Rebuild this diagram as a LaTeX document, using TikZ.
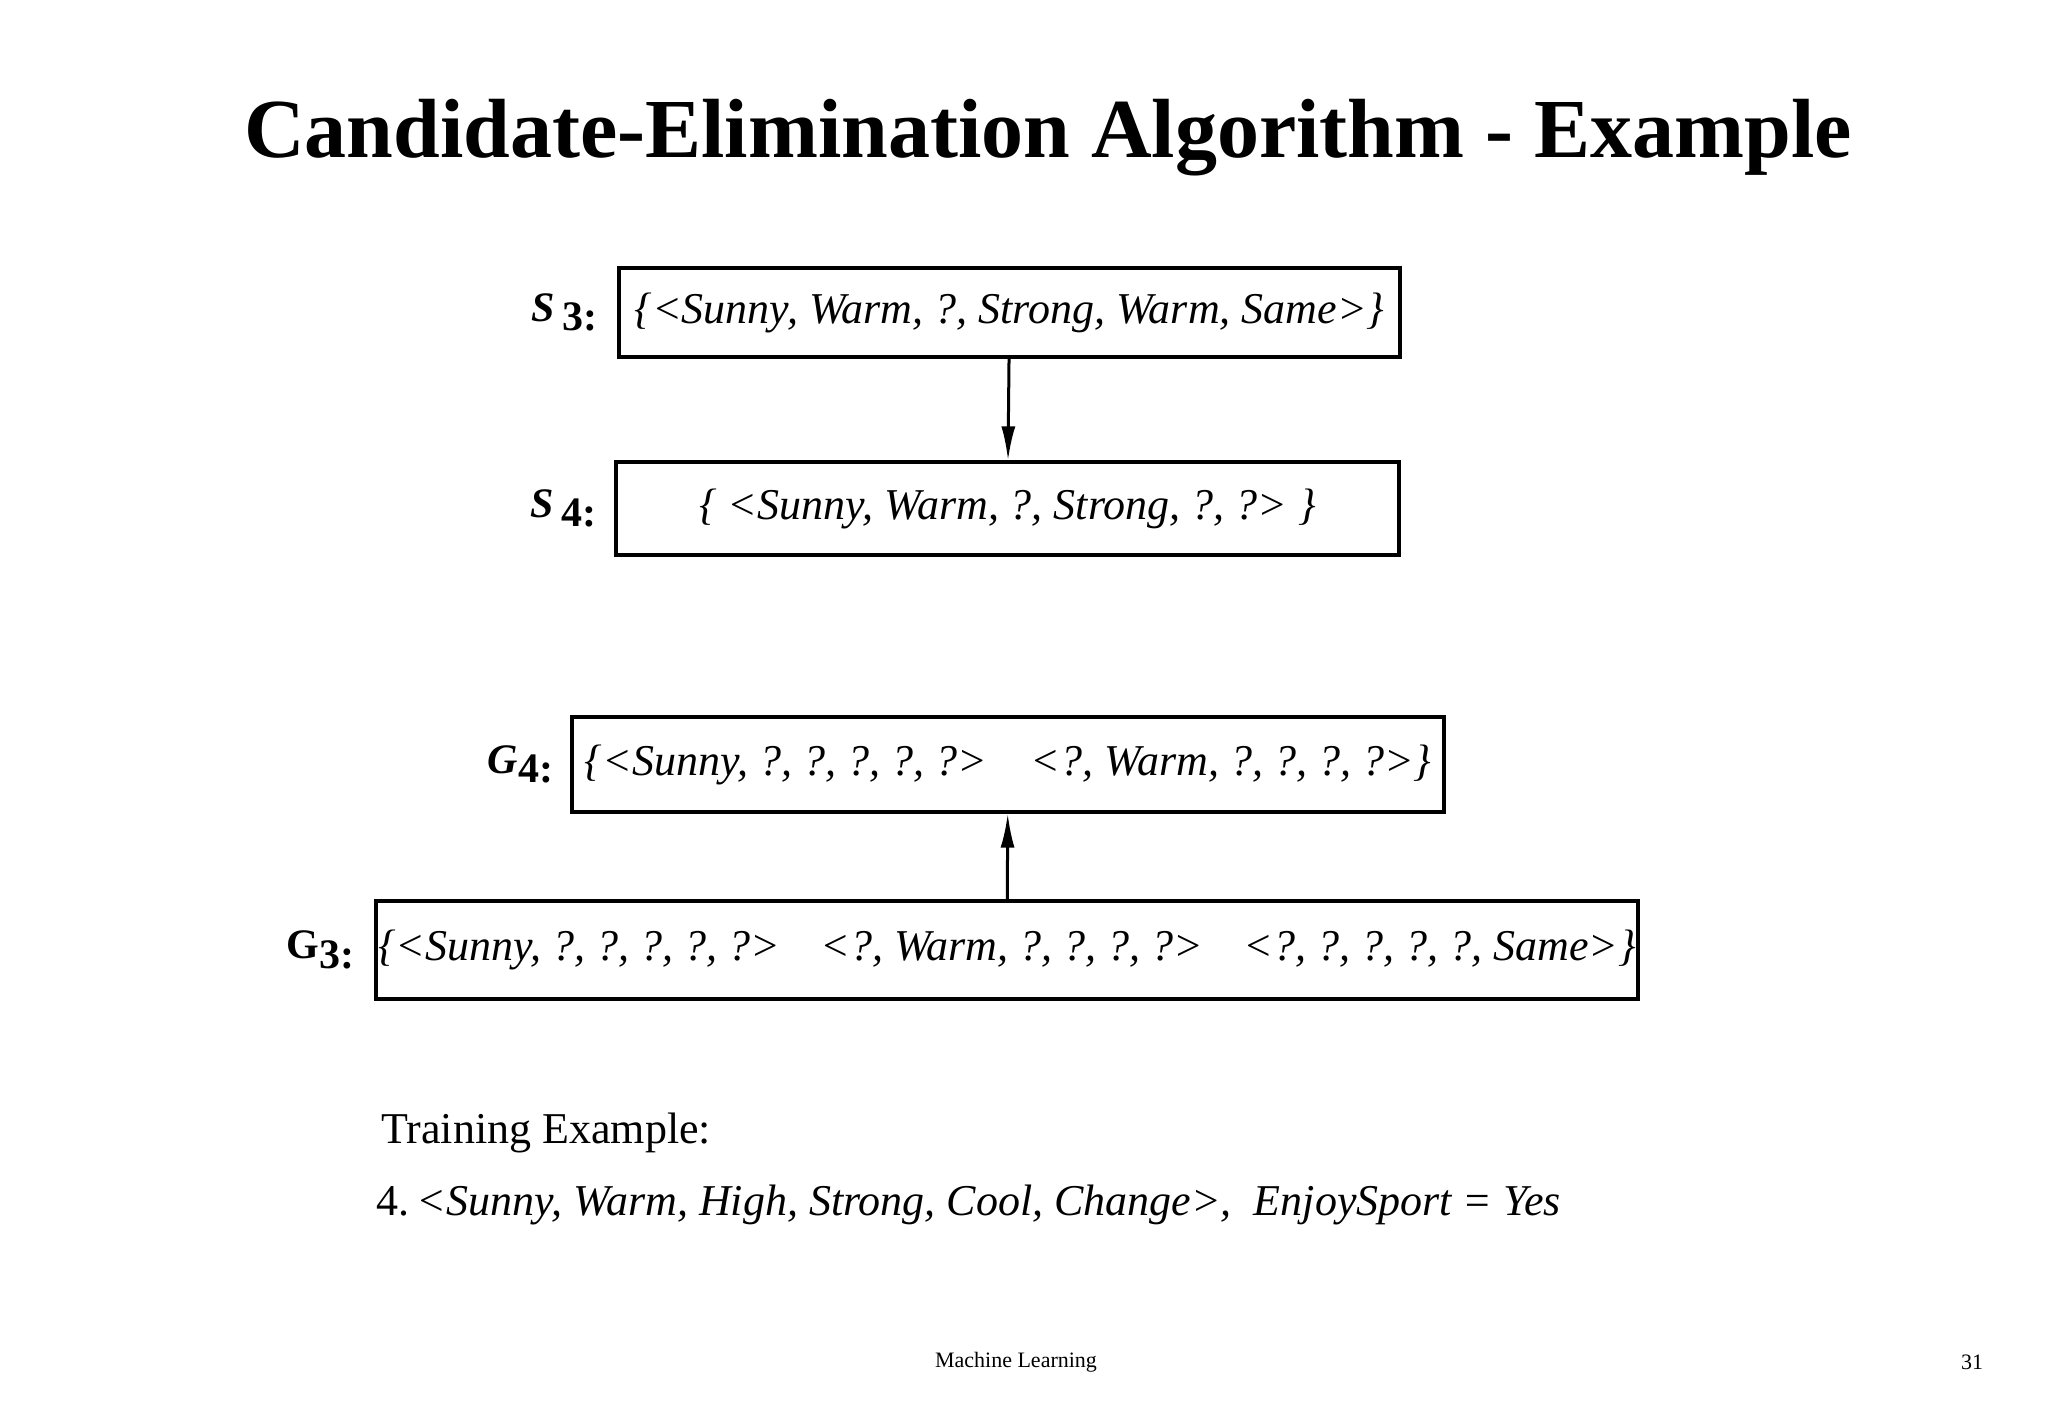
\documentclass[tikz,border=0pt]{standalone}
\usepackage{fontspec}
\setmainfont{Liberation Serif}
\usetikzlibrary{arrows.meta,positioning}

\tikzset{
    hypbox/.style={draw, line width=1.6pt, inner sep=0pt, font=\fontsize{22}{26}\selectfont\itshape},
    setlabel/.style={inner sep=0pt, font=\fontsize{21}{24}\selectfont\bfseries},
    refine/.style={line width=1.5pt, -{Latex[length=17pt,width=7pt]}},
    plain/.style={inner sep=0pt, anchor=base west}
}
\newcommand{\setname}[2]{#1\raisebox{-0.5ex}{#2:}}

\begin{document}
\begin{tikzpicture}[x=0.5pt, y=-0.5pt]
    \useasboundingbox (0,0) rectangle (2048,1418);
    \node[font=\fontsize{42}{48}\selectfont\bfseries] (title) at (1048,138) {Candidate-Elimination Algorithm - Example};

    % specific boundary
    \node[hypbox, minimum width=390.5pt, minimum height=44.5pt] (s3) at (1009.5,312.5) {\{<Sunny, Warm, ?, Strong, Warm, Same>\}};
    \node[hypbox, minimum width=391.5pt, minimum height=46.5pt] (s4) at (1007.5,508.5) {\{ <Sunny, Warm, ?, Strong, ?, ?> \}};
    \node[setlabel, left=10pt of s3] (ls3) {\setname{\textit{S}\,}{3}};
    \node[setlabel, left=9pt of s4] (ls4) {\setname{\textit{S}\,}{4}};

    % general boundary
    \node[hypbox, minimum width=436pt, minimum height=47.5pt] (g4) at (1008,764.5) {\{<Sunny, ?, ?, ?, ?, ?>\quad <?, Warm, ?, ?, ?, ?>\}};
    \node[hypbox, minimum width=631pt, minimum height=49pt] (g3) at (1007,950) {\{<Sunny, ?, ?, ?, ?, ?>\enspace\, <?, Warm, ?, ?, ?, ?>\enspace\, <?, ?, ?, ?, ?, Same>\}};
    \node[setlabel, left=8.5pt of g4] (lg4) {\setname{\textit{G}}{4}};
    \node[setlabel, left=10pt of g3] (lg3) {\setname{G}{3}};

    \draw[refine] (s3) -- (s4);
    \draw[refine] (g3) -- (g4);

    \node[plain, font=\fontsize{22}{26}\selectfont] (train) at (381,1143) {Training Example:};
    \node[plain, font=\fontsize{22}{26}\selectfont] (ex4) at (376,1215) {4.\,\textit{<Sunny, Warm, High, Strong, Cool, Change>,\enspace EnjoySport = Yes}};

    \node[font=\fontsize{11}{13}\selectfont] (foot) at (1016,1362) {Machine Learning};
    \node[font=\fontsize{11}{13}\selectfont] (page) at (1972,1362) {31};
\end{tikzpicture}
\end{document}
